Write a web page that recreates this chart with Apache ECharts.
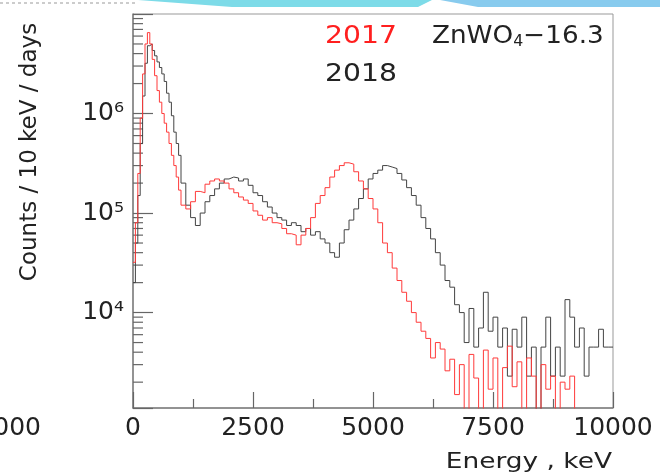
<!DOCTYPE html>
<html lang="en">
<head>
<meta charset="UTF-8">
<title>ZnWO4-16.3 spectra</title>
<script src="https://cdn.jsdelivr.net/npm/echarts@6/dist/echarts.min.js"></script>
<style>
    html, body { margin: 0; padding: 0; background: #fff; }
    .box { position: absolute; left: 0; top: 0; width: 660px; height: 476px; }
    #overlay { pointer-events: none; }
</style>
</head>
<body>
<div id="chart" class="box"></div>
<div id="overlay" class="box"></div>
<script>
    // bin left edges, keV (50 keV up to 1 MeV, then 100 keV)
    var energy = [0, 50, 100, 150, 200, 250, 300, 350, 400, 450,
        500, 550, 600, 650, 700, 750, 800, 850, 900, 950,
        1000, 1100, 1200, 1300, 1400, 1500, 1600, 1700, 1800, 1900,
        2000, 2100, 2200, 2300, 2400, 2500, 2600, 2700, 2800, 2900,
        3000, 3100, 3200, 3300, 3400, 3500, 3600, 3700, 3800, 3900,
        4000, 4100, 4200, 4300, 4400, 4500, 4600, 4700, 4800, 4900,
        5000, 5100, 5200, 5300, 5400, 5500, 5600, 5700, 5800, 5900,
        6000, 6100, 6200, 6300, 6400, 6500, 6600, 6700, 6800, 6900,
        7000, 7100, 7200, 7300, 7400, 7500, 7600, 7700, 7800, 7900,
        8000, 8100, 8200, 8300, 8400, 8500, 8600, 8700, 8800, 8900,
        9000, 9100, 9200, 9300, 9400, 9500, 9600, 9700, 9800, 9900];
    var energyEnd = 10000;

    // 2017 run (red)
    var counts2017 = [3.2e4, 8e4, 2.5e5, 9e5, 2.5e6, 5e6, 6.5e6, 5e6, 3.5e6, 2.4e6,
        1.7e6, 1.3e6, 1.0e6, 8e5, 6.5e5, 5e5, 3.8e5, 3e5, 2.3e5, 1.7e5,
        1.2e5, 1.1e5, 1.3e5, 1.65e5, 1.6e5, 1.95e5, 2.1e5, 2.2e5, 2.1e5, 2.0e5,
        1.75e5, 1.6e5, 1.45e5, 1.35e5, 1.25e5, 1.05e5, 9.5e4, 8.5e4, 9e4, 8e4,
        7.8e4, 7e4, 6.2e4, 6e4, 4.8e4, 6e4, 7e4, 9e4, 1.25e5, 1.5e5,
        1.8e5, 2.3e5, 2.7e5, 3.0e5, 3.2e5, 3.1e5, 2.6e5, 2.1e5, 1.75e5, 1.4e5,
        1.1e5, 8e4, 5e4, 4e4, 2.8e4, 2.1e4, 1.6e4, 1.3e4, 1.0e4, 8e3,
        6.5e3, 5.5e3, 3.5e3, 5e3, 4.3e3, 2.6e3, 3.4e3, 1.5e3, 3.0e3, 1000,
        3.8e3, 2.2e3, 1000, 4.2e3, 1.7e3, 3.5e3, 1000, 2.8e3, 4.6e3, 1.8e3,
        3.2e3, 1000, 3.5e3, 2.3e3, 1000, 3.0e3, 1.7e3, 2.3e3, 1000, 2.0e3,
        1.7e3, 2.3e3, 1000, 1000, 1000, 1000, 1000, 1000, 1000, 1000];

    // 2018 run (black)
    var counts2018 = [2e4, 5e4, 1.5e5, 5e5, 1.5e6, 3.2e6, 4.8e6, 5e6, 4.3e6, 3.8e6,
        3.3e6, 2.9e6, 2.5e6, 2.1e6, 1.6e6, 1.3e6, 9.5e5, 6.5e5, 5e5, 3.8e5,
        2.0e5, 1.2e5, 9e4, 7.5e4, 1.0e5, 1.3e5, 1.5e5, 1.75e5, 2.0e5, 2.2e5,
        2.3e5, 2.25e5, 2.1e5, 2.2e5, 1.9e5, 1.6e5, 1.5e5, 1.3e5, 1.15e5, 1.0e5,
        9e4, 8.5e4, 7.5e4, 8e4, 7.5e4, 6.5e4, 7e4, 6e4, 6.5e4, 5.5e4,
        5e4, 4e4, 3.6e4, 5e4, 6.8e4, 8.5e4, 1.1e5, 1.4e5, 1.75e5, 2.2e5,
        2.5e5, 2.7e5, 3.0e5, 2.9e5, 2.8e5, 2.5e5, 2.15e5, 1.8e5, 1.5e5, 1.2e5,
        9e4, 7e4, 5.5e4, 4e4, 3e4, 2.1e4, 1.8e4, 1.2e4, 1.0e4, 5e3,
        1.1e4, 4.5e3, 7e3, 1.6e4, 6.5e3, 9e3, 4.5e3, 7e3, 2.3e3, 6.8e3,
        4.5e3, 9e3, 2.3e3, 4.5e3, 1000, 4.5e3, 9e3, 2.3e3, 4.5e3, 2.3e3,
        1.35e4, 9e3, 4.5e3, 7e3, 2.3e3, 4.5e3, 4.5e3, 6.8e3, 4.5e3, 4.5e3];

    var yMinorTicks = [2e3, 3e3, 4e3, 5e3, 6e3, 7e3, 8e3, 9e3,
        2e4, 3e4, 4e4, 5e4, 6e4, 7e4, 8e4, 9e4,
        2e5, 3e5, 4e5, 5e5, 6e5, 7e5, 8e5, 9e5,
        2e6, 3e6, 4e6, 5e6, 6e6, 7e6, 8e6, 9e6];
    var yLabels = { 4: '10\u2074', 5: '10\u2075', 6: '10\u2076' };

    var FONT = '"DejaVu Sans", sans-serif';
    var TICK = '#666';

    // histogram -> step points
    function toSteps(vals) {
        var out = [];
        for (var i = 0; i < vals.length; i++) {
            out.push([energy[i], vals[i]]);
        }
        out.push([energyEnd, vals[vals.length - 1]]);
        return out;
    }

    var myChart = echarts.init(document.getElementById('chart'));
    // texts and decoration live in their own transparent instance on top
    var overlay = echarts.init(document.getElementById('overlay'));

    var option = {
        animation: false,
        grid: {
            left: 133, right: 47, top: 14, bottom: 68,
            show: true, borderColor: '#999', borderWidth: 1
        },
        xAxis: {
            type: 'value',
            min: 0, max: 10000, interval: 2500,
            axisLine: { lineStyle: { color: '#808080', width: 1.5 } },
            axisTick: { inside: true, length: 16, lineStyle: { color: TICK, width: 1.2 } },
            minorTick: { show: true, splitNumber: 2, length: 9, lineStyle: { color: TICK, width: 1.2 } },
            splitLine: { show: false },
            axisLabel: {
                fontFamily: FONT, fontSize: 25, color: '#222', margin: 8,
                formatter: function (v) { return String(v); }
            }
        },
        yAxis: {
            type: 'log',
            min: 1100, max: 1e7,
            axisLine: { lineStyle: { color: '#808080', width: 1.5 } },
            axisTick: { inside: true, length: 20, lineStyle: { color: TICK, width: 1.2 } },
            splitLine: { show: false },
            axisLabel: {
                margin: 9,
                fontFamily: FONT, fontSize: 25, color: '#222',
                formatter: function (v) {
                    var p = Math.round(Math.log10(v));
                    if (Math.abs(Math.log10(v) - p) > 1e-6) return '';
                    return yLabels[p] || '';
                }
            }
        },
        series: [{
            // log minor ticks on the left axis
            type: 'custom',
            data: yMinorTicks.map(function (v) { return [0, v]; }),
            renderItem: function (params, api) {
                var p = api.coord([api.value(0), api.value(1)]);
                return {
                    type: 'line',
                    shape: { x1: p[0], y1: p[1], x2: p[0] + 10, y2: p[1] },
                    style: { stroke: TICK, lineWidth: 1.2 }
                };
            }
        }, {
            name: '2018',
            type: 'line',
            step: 'end',
            symbol: 'none',
            data: toSteps(counts2018),
            lineStyle: { color: '#444', width: 1 }
        }, {
            name: '2017',
            type: 'line',
            step: 'end',
            symbol: 'none',
            data: toSteps(counts2017),
            lineStyle: { color: '#ff3a3a', width: 1 }
        }]
    };
    myChart.setOption(option);

    overlay.setOption({
        animation: false,
        graphic: [
            // slide decoration at the top
            { type: 'polygon', shape: { points: [[138, 0], [432, 0], [418, 7], [232, 7]] },
              style: { fill: '#7ddbe8' }, silent: true },
            { type: 'polygon', shape: { points: [[440, 0], [660, 0], [660, 7], [478, 7]] },
              style: { fill: '#88cbee' }, silent: true },
            { type: 'polyline', shape: { points: [[0, 3], [135, 3]] },
              style: { stroke: '#ccc', lineWidth: 2, lineDash: [3, 3] }, silent: true },
            // axis titles
            { type: 'text', x: 30, y: 152, rotation: Math.PI / 2,
              style: { text: 'Counts / 10 keV / days', font: '23px ' + FONT, fill: '#222',
                       align: 'center', verticalAlign: 'middle' } },
            { type: 'text', x: 612, y: 462, scaleX: 1.2,
              style: { text: 'Energy , keV', font: '22px ' + FONT, fill: '#222',
                       align: 'right', verticalAlign: 'middle' } },
            // leftover label of the neighbouring panel
            { type: 'text', x: 41, y: 428,
              style: { text: '10000', font: '25px ' + FONT, fill: '#222',
                       align: 'right', verticalAlign: 'middle' } },
            // legend
            { type: 'text', x: 325, y: 36, scaleX: 1.13,
              style: { text: '2017', font: '25px ' + FONT, fill: '#ff1f1f',
                       align: 'left', verticalAlign: 'middle' } },
            { type: 'text', x: 325, y: 74, scaleX: 1.13,
              style: { text: '2018', font: '25px ' + FONT, fill: '#222',
                       align: 'left', verticalAlign: 'middle' } },
            { type: 'text', x: 432, y: 36, scaleX: 1.05,
              style: {
                  text: '{a|ZnWO}{sub|4}{a|\u221216.3}',
                  align: 'left', verticalAlign: 'middle',
                  rich: {
                      a: { font: '25px ' + FONT, fill: '#222', lineHeight: 28 },
                      sub: { font: '15px ' + FONT, fill: '#222', lineHeight: 14, verticalAlign: 'bottom' }
                  }
              } }
        ]
    });
</script>
</body>
</html>
